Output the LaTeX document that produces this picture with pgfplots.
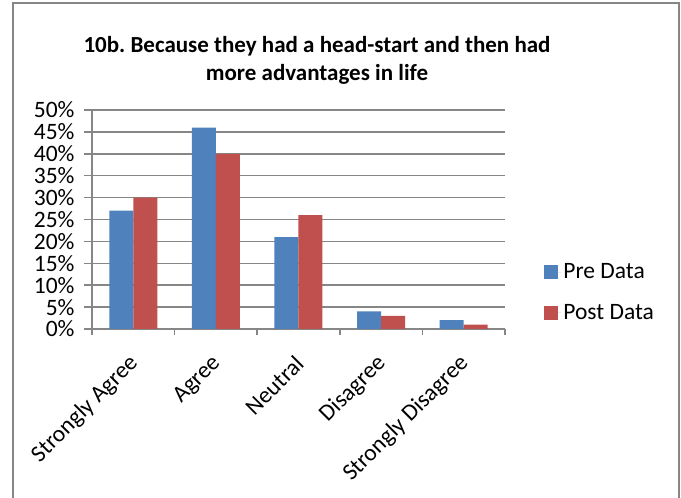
\documentclass[border=0pt]{standalone}
\usepackage{pgfplots}
\pgfplotsset{compat=1.18}
\usepackage{fontspec}
\setmainfont{Carlito}
\definecolor{preblue}{HTML}{4F81BD}
\definecolor{postred}{HTML}{C0504D}
\definecolor{axgray}{RGB}{134,134,134}
\begin{document}
\frenchspacing
\begin{tikzpicture}[x=1pt,y=1pt]
\useasboundingbox (0,0) rectangle (681,498);
\draw[axgray,line width=2pt] (12.5,-5) -- (12.5,495) -- (679,495) -- (679,-5);
\node[font=\fontsize{23}{28}\selectfont\bfseries,align=center] at (317,438) {10b. Because they had a head-start and then had\\more advantages in life};
\begin{axis}[
  at={(92pt,169pt)}, anchor=south west,
  scale only axis, width=413pt, height=219pt,
  xmin=-0.5, xmax=4.5, ymin=0, ymax=50,
  ybar=0pt, bar width=24pt,
  ytick={0,5,...,50},
  yticklabel={\pgfmathprintnumber{\tick}\%},
  xtick={0,1,2,3,4},
  xticklabels={Strongly Agree,Agree,Neutral,Disagree,Strongly Disagree},
  minor xtick={-0.5,0.5,1.5,2.5,3.5,4.5},
  major x tick style={draw=none},
  tick align=outside,
  major tick length=8pt, minor tick length=6pt,
  tick style={axgray,line width=1.5pt},
  axis x line*=bottom, axis y line*=left,
  axis line style={axgray,line width=1.5pt,-},
  ymajorgrids, grid style={axgray,line width=1.5pt},
  /pgf/number format/assume math mode=true,
  tick label style={font=\fontsize{23.5}{28}\selectfont},
  yticklabel style={xshift=-6pt},
  xticklabel style={rotate=45,anchor=east,xshift=-12pt,yshift=-17pt},
  legend style={draw=none,fill=none,at={(1.095,0.167)},anchor=west,
    font=\fontsize{23.5}{28}\selectfont,row sep=20pt,inner sep=0pt,
    cells={anchor=west}},
  legend image code/.code={\fill[#1] (0pt,-7pt) rectangle (14pt,7pt);\path (0pt,0pt) -- (17pt,0pt);},
]
\addplot[fill=preblue,draw=none] coordinates {(0,27) (1,46) (2,21) (3,4) (4,2)};
\addplot[fill=postred,draw=none] coordinates {(0,30) (1,40) (2,26) (3,3) (4,1)};
\legend{Pre Data,Post Data}
\end{axis}
\end{tikzpicture}
\end{document}
